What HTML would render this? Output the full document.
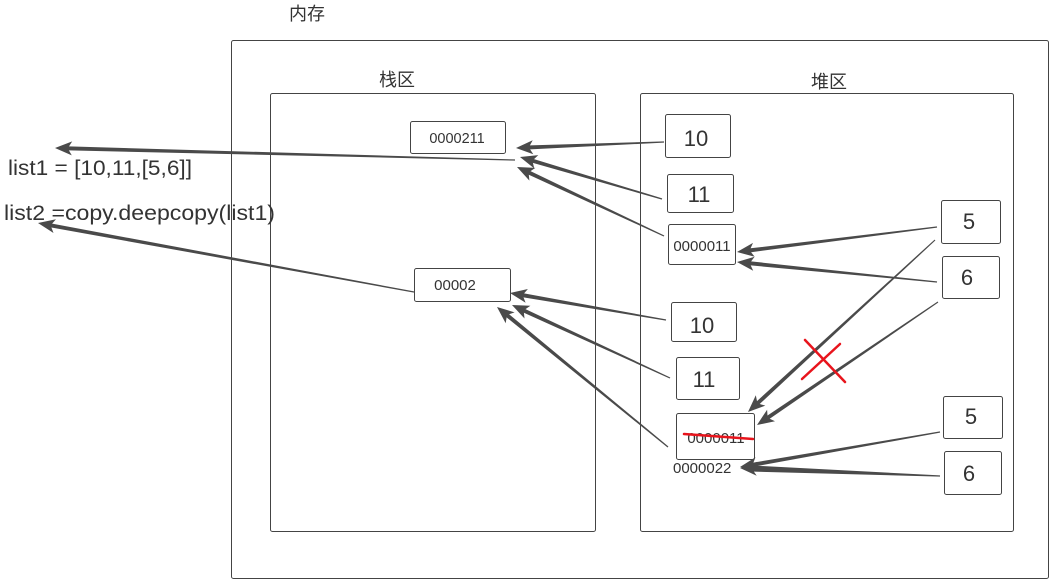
<!DOCTYPE html>
<html><head><meta charset="utf-8">
<style>
html,body{margin:0;padding:0;background:#fff;}
body{width:1057px;height:585px;overflow:hidden;position:relative;font-family:"Liberation Sans","Noto Sans CJK SC",sans-serif;color:#333;}
</style></head>
<body>
<svg id="s" width="1057" height="585" xmlns="http://www.w3.org/2000/svg" style="position:absolute;left:0;top:0">
<g fill="none" stroke="#444" stroke-width="1">
<rect x="231.5" y="40.5" width="817" height="538" rx="2"/>
<rect x="270.5" y="93.5" width="325" height="438" rx="2"/>
<rect x="640.5" y="93.5" width="373" height="438" rx="2"/>
<rect x="410.5" y="121.5" width="95" height="32" rx="2"/>
<rect x="414.5" y="268.5" width="96" height="33" rx="2"/>
<rect x="665.5" y="114.5" width="65" height="43" rx="2"/>
<rect x="667.5" y="174.5" width="66" height="38" rx="2"/>
<rect x="668.5" y="224.5" width="67" height="40" rx="2"/>
<rect x="941.5" y="200.5" width="59" height="43" rx="2"/>
<rect x="942.5" y="256.5" width="57" height="42" rx="2"/>
<rect x="671.5" y="302.5" width="65" height="39" rx="2"/>
<rect x="676.5" y="357.5" width="63" height="42" rx="2"/>
<rect x="676.5" y="413.5" width="78" height="46" rx="2"/>
<rect x="943.5" y="396.5" width="59" height="42" rx="2"/>
<rect x="944.5" y="451.5" width="57" height="43" rx="2"/>
</g>
<g id="arrows" fill="#4a4a4a"></g>
<g font-family="Liberation Sans, Noto Sans CJK SC, sans-serif" fill="#333">
<text x="289" y="20" font-size="18">内存</text>
<text x="379" y="86" font-size="18">栈区</text>
<text x="811" y="88" font-size="18">堆区</text>
<text x="457" y="143" font-size="14.5" text-anchor="middle">0000211</text>
<text x="455" y="290" font-size="15" text-anchor="middle">00002</text>
<text x="696" y="146" font-size="22" text-anchor="middle">10</text>
<text x="699" y="202" font-size="22" text-anchor="middle">11</text>
<text x="702" y="251" font-size="15" text-anchor="middle">0000011</text>
<text x="969" y="229" font-size="22" text-anchor="middle">5</text>
<text x="967" y="285" font-size="22" text-anchor="middle">6</text>
<text x="702" y="333" font-size="22" text-anchor="middle">10</text>
<text x="704" y="387" font-size="22" text-anchor="middle">11</text>
<text x="716" y="443" font-size="15" text-anchor="middle">0000011</text>
<text x="673" y="473" font-size="15">0000022</text>
<text x="971" y="424" font-size="22" text-anchor="middle">5</text>
<text x="969" y="481" font-size="22" text-anchor="middle">6</text>
<text x="8" y="175" font-size="21" textLength="184" lengthAdjust="spacingAndGlyphs">list1 = [10,11,[5,6]]</text>
<text x="4" y="220" font-size="21" textLength="271" lengthAdjust="spacingAndGlyphs">list2 =copy.deepcopy(list1)</text>
</g>
<g stroke="#e8141c" stroke-width="2.5" stroke-linecap="round">
<line x1="684" y1="434" x2="753" y2="439"/>
<line x1="805" y1="340" x2="845" y2="382"/>
<line x1="802" y1="379" x2="840" y2="344"/>
</g>
</svg>
<script>
var A=[
[664,142,516,148,4],[662,199,520,157,4],[664,236,517,167,4],[515,160,55,148,4],
[937,227,737,252,4],[937,282,737,262,4],[414,292,38,223,4],
[666,320,510,293,4],[670,378,512,305,4],[668,447,497,307,4],
[935,240,748,412,4],[938,302,757,425,4],[940,432,740,467,4],[940,476,740,468,6]];
var g=document.getElementById('arrows'),h='';
A.forEach(function(a){
var x1=a[0],y1=a[1],x2=a[2],y2=a[3],w=a[4];
var dx=x2-x1,dy=y2-y1,L=Math.sqrt(dx*dx+dy*dy),ux=dx/L,uy=dy/L,px=-uy,py=ux;
var hl=14,hw=7;
var bx=x2-ux*hl,by=y2-uy*hl;
var p=[[x1+px*0.6,y1+py*0.6],[bx+px*w/2,by+py*w/2],[bx+px*hw-ux*3,by+py*hw-uy*3],[x2,y2],[bx-px*hw-ux*3,by-py*hw-uy*3],[bx-px*w/2,by-py*w/2],[x1-px*0.6,y1-py*0.6]];
h+='<polygon points="'+p.map(function(q){return q[0].toFixed(1)+','+q[1].toFixed(1)}).join(' ')+'"/>';
});
g.innerHTML=h;
</script>
</body></html>
